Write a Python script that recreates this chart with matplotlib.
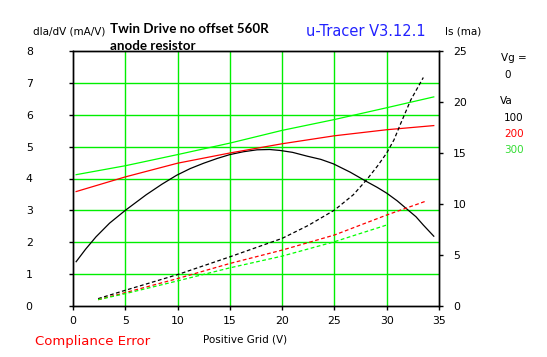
import matplotlib
matplotlib.use("Agg")
import matplotlib.pyplot as plt

# =========================================================
# Data
# =========================================================

# gm curves (left axis, mA/V)
gm_x = [0.3, 1.2, 2.2, 3.5, 5.0, 7.0, 8.5, 9.9, 11.2, 12.5, 13.8, 15.0, 16.3, 17.6, 18.8,
        19.8, 21.0, 22.4, 23.7, 24.9, 26.5, 28.1, 29.1, 30.0, 31.0, 31.9, 32.8, 33.5, 34.5]
gm_100 = [1.39, 1.78, 2.17, 2.6, 3.0, 3.49, 3.82, 4.1, 4.31, 4.48, 4.63, 4.75, 4.84, 4.9, 4.91,
          4.88, 4.82, 4.7, 4.6, 4.46, 4.2, 3.9, 3.72, 3.54, 3.3, 3.05, 2.8, 2.54, 2.19]

gm2_x = [0.3, 5.0, 10.0, 15.0, 20.0, 25.0, 30.0, 34.5]
gm_200 = [3.59, 4.05, 4.48, 4.8, 5.09, 5.34, 5.53, 5.66]
gm_300 = [4.12, 4.4, 4.75, 5.11, 5.51, 5.85, 6.22, 6.56]

# screen current curves (right axis, mA)
is100_x = [2.4, 5.0, 10.0, 15.0, 20.0, 22.5, 25.0, 26.8, 28.1, 29.1, 30.0, 30.7, 31.3, 32.3, 33.5]
is_100 = [0.72, 1.54, 3.08, 4.82, 6.63, 7.9, 9.4, 10.9, 12.4, 13.7, 15.0, 16.3, 17.8, 20.2, 22.4]

is200_x = [2.4, 5.0, 10.0, 15.0, 20.0, 25.0, 30.0, 33.8]
is_200 = [0.62, 1.31, 2.69, 4.17, 5.48, 6.96, 8.92, 10.3]

is300_x = [2.4, 5.0, 10.0, 15.0, 20.0, 25.0, 30.0]
is_300 = [0.62, 1.21, 2.46, 3.74, 4.89, 6.3, 7.94]

va_labels = ["100", "200", "300"]
va_colors = ["black", "#ff0000", "#00ff00"]

# =========================================================
# Figure
# =========================================================

W, H = 547, 357
fig = plt.figure(figsize=(W / 100, H / 100), dpi=100)
fig.patch.set_facecolor("white")


def px(x, y):
    return x / W, 1 - y / H


ax = fig.add_axes([73 / W, 1 - 306 / H, (439 - 73) / W, (306 - 51) / H])
ax2 = ax.twinx()

grid_col = "#00ee00"
for gx in [5, 10, 15, 20, 25, 30]:
    ax.axvline(gx, color=grid_col, lw=1, zorder=0)
for gy in [1, 2, 3, 4, 5, 6, 7]:
    ax.axhline(gy, color=grid_col, lw=1, zorder=0)

ax.plot(gm_x, gm_100, color=va_colors[0], lw=0.9)
ax.plot(gm2_x, gm_200, color=va_colors[1], lw=0.9)
ax.plot(gm2_x, gm_300, color=va_colors[2], lw=0.9)

dash = (0, (3, 2))
ax2.plot(is100_x, is_100, color=va_colors[0], lw=0.9, ls=dash)
ax2.plot(is200_x, is_200, color=va_colors[1], lw=0.9, ls=dash)
ax2.plot(is300_x, is_300, color=va_colors[2], lw=0.9, ls=dash)

ax.set_xlim(0, 35)
ax.set_ylim(0, 8)
ax2.set_ylim(0, 25)
ax.set_xticks(range(0, 36, 5))
ax.set_yticks(range(0, 9))
ax2.set_yticks(range(0, 26, 5))

for a in (ax, ax2):
    for s in a.spines.values():
        s.set_linewidth(1)
        s.set_color("black")
    a.tick_params(length=3, width=1, labelsize=7.8, direction="out")
ax.tick_params(axis="y", pad=26)
ax.tick_params(axis="x", pad=4)
ax2.tick_params(axis="y", pad=7)

# =========================================================
# Texts
# =========================================================

fig.text(*px(33, 31), "dIa/dV (mA/V)", fontsize=7.5, va="center", ha="left")
fig.text(*px(110, 29), "Twin Drive no offset 560R", fontsize=9.6, fontweight="bold",
         family="Lato", va="center", ha="left")
fig.text(*px(110, 46), "anode resistor", fontsize=9.6, fontweight="bold",
         family="Lato", va="center", ha="left")
fig.text(*px(306, 31), "u-Tracer V3.12.1", fontsize=10.5, color="#2222ff",
         va="center", ha="left")
fig.text(*px(445, 31), "Is (ma)", fontsize=7.5, va="center", ha="left")

fig.text(*px(501, 58), "Vg =", fontsize=7.5, va="center", ha="left")
fig.text(*px(504, 75), "0", fontsize=7.5, va="center", ha="left")
fig.text(*px(500, 101), "Va", fontsize=7.5, va="center", ha="left")
for i, (lab, col) in enumerate(zip(va_labels, va_colors)):
    c = "#33dd33" if lab == "300" else col
    fig.text(*px(504, 118 + 16 * i), lab, fontsize=7.5, color=c, va="center", ha="left")

fig.text(*px(245, 339), "Positive Grid (V)", fontsize=7.5, va="center", ha="center")
fig.text(*px(35, 341), "Compliance Error", fontsize=9.5, color="#ff0000",
         va="center", ha="left")

fig.savefig("out.png", dpi=100)
